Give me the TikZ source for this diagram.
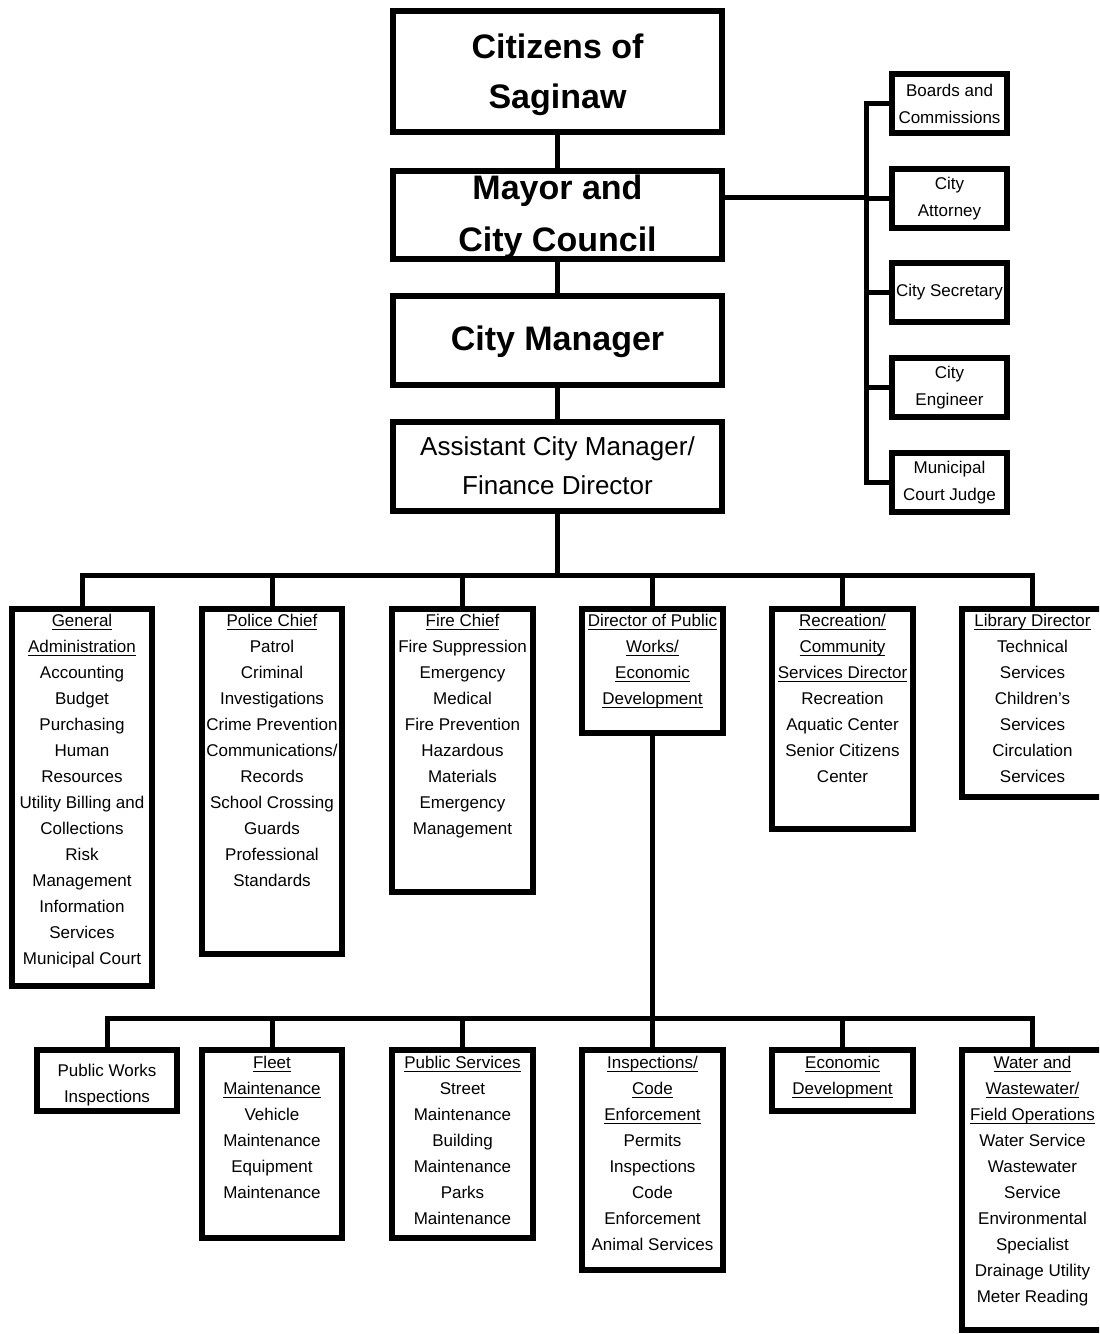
\documentclass[tikz,border=0pt]{standalone}
\usepackage{fontspec}
\setmainfont{Liberation Sans}
\usetikzlibrary{fit}
\newcommand\myul[1]{\setbox0\hbox{#1}\rlap{\rule[-1.6pt]{\wd0}{0.55pt}}\box0}
\begin{document}
\begin{tikzpicture}[x=0.5pt,y=-0.5pt,
  box/.style={draw=black, line width=3pt, inner sep=0pt, fill=white},
  conn/.style={draw=black, line width=2.5pt},
  txt/.style={inner sep=0pt, align=center, font=\fontsize{8.5}{13}\selectfont, anchor=north},
  rtxt/.style={inner sep=0pt, align=center, font=\fontsize{8.5}{13.5}\selectfont},
  big/.style={inner sep=0pt, align=center, font=\fontsize{17}{25}\selectfont\bfseries},
]
\useasboundingbox (0,0) rectangle (1099,1334);
\clip (0,0) rectangle (1099,1334);
\fill[white] (0,0) rectangle (1099,1334);

% ---------- top column ----------
\node[box, fit={(393,11) (722,132)}] (cit) {};
\node[box, fit={(393,171) (722,259)}] (mayor) {};
\node[box, fit={(393,296) (722,385)}] (cm) {};
\node[box, fit={(393,422) (722,511)}] (acm) {};

\node[big] (cit-t) at (557.5,75) {Citizens of\\Saginaw};
\node[big, font=\fontsize{17}{26}\selectfont\bfseries] (mayor-t) at (557.5,217) {Mayor and\\City Council};
\node[big] (cm-t) at (557.5,342) {City Manager};
\node[inner sep=0pt, align=center, font=\fontsize{13}{19.5}\selectfont] (acm-t) at (557.5,466) {Assistant City Manager/\\Finance Director};

% ---------- right column ----------
\node[box, fit={(892,74) (1007,133)}] (boards) {};
\node[box, fit={(892,169) (1007,228)}] (atty) {};
\node[box, fit={(892,263) (1007,322)}] (sec) {};
\node[box, fit={(892,358) (1007,417)}] (eng) {};
\node[box, fit={(892,453) (1007,512)}] (judge) {};

\node[rtxt] (boards-t) at (boards.center) {Boards and\\Commissions};
\node[rtxt] (atty-t) at (atty.center) {City\\Attorney};
\node[rtxt] (sec-t) at (sec.center) {City Secretary};
\node[rtxt] (eng-t) at (eng.center) {City\\Engineer};
\node[rtxt] (judge-t) at (judge.center) {Municipal\\Court Judge};

% ---------- level 2 ----------
\node[box, fit={(12,609) (152,986)}] (ga) {};
\node[box, fit={(202,609) (342,954)}] (police) {};
\node[box, fit={(392,609) (533,892)}] (fire) {};
\node[box, fit={(582,609) (723,733)}] (dpw) {};
\node[box, fit={(772,609) (913,829)}] (rec) {};
\node[box, fit={(962,609) (1103,797)}] (lib) {};

\node[txt] (ga-t) at (82,614) {\myul{General}\\\myul{Administration}\\Accounting\\Budget\\Purchasing\\Human\\Resources\\Utility Billing and\\Collections\\Risk\\Management\\Information\\Services\\Municipal Court};
\node[txt] (police-t) at (272,614) {\myul{Police Chief}\\Patrol\\Criminal\\Investigations\\Crime Prevention\\Communications/\\Records\\School Crossing\\Guards\\Professional\\Standards};
\node[txt] (fire-t) at (462.5,614) {\myul{Fire Chief}\\Fire Suppression\\Emergency\\Medical\\Fire Prevention\\Hazardous\\Materials\\Emergency\\Management};
\node[txt] (dpw-t) at (652.5,614) {\myul{Director of Public}\\\myul{Works/}\\\myul{Economic}\\\myul{Development}};
\node[txt] (rec-t) at (842.5,614) {\myul{Recreation/}\\\myul{Community}\\\myul{Services Director}\\Recreation\\Aquatic Center\\Senior Citizens\\Center};
\node[txt] (lib-t) at (1032.5,614) {\myul{Library Director}\\Technical\\Services\\Children's\\Services\\Circulation\\Services};

% ---------- level 3 ----------
\node[box, fit={(37,1050) (177,1111)}] (pwi) {};
\node[box, fit={(202,1050) (342,1238)}] (fleet) {};
\node[box, fit={(392,1050) (533,1238)}] (ps) {};
\node[box, fit={(582,1050) (723,1270)}] (insp) {};
\node[box, fit={(772,1050) (913,1111)}] (econ) {};
\node[box, fit={(962,1050) (1103,1330)}] (water) {};

\node[rtxt, font=\fontsize{8.5}{13}\selectfont] (pwi-t) at (107,1085) {Public Works\\Inspections};
\node[txt] (fleet-t) at (272,1056) {\myul{Fleet}\\\myul{Maintenance}\\Vehicle\\Maintenance\\Equipment\\Maintenance};
\node[txt] (ps-t) at (462.5,1056) {\myul{Public Services}\\Street\\Maintenance\\Building\\Maintenance\\Parks\\Maintenance};
\node[txt] (insp-t) at (652.5,1056) {\myul{Inspections/}\\\myul{Code}\\\myul{Enforcement}\\Permits\\Inspections\\Code\\Enforcement\\Animal Services};
\node[txt] (econ-t) at (842.5,1056) {\myul{Economic}\\\myul{Development}};
\node[txt] (water-t) at (1032.5,1056) {\myul{Water and}\\\myul{Wastewater/}\\\myul{Field Operations}\\Water Service\\Wastewater\\Service\\Environmental\\Specialist\\Drainage Utility\\Meter Reading};

% ---------- connectors ----------
\draw[conn] (cit.south) -- (mayor.north);
\draw[conn] (mayor.south) -- (cm.north);
\draw[conn] (cm.south) -- (acm.north);

\coordinate (rv) at (866,197);
\draw[conn] (mayor.east |- rv) -- (rv);
\foreach \n in {boards,atty,sec,eng,judge}
  \draw[conn] (\n.west) -| (rv);

\coordinate (bus1) at (557.5,575);
\draw[conn] (acm.south) -- (bus1);
\foreach \n in {ga,police,fire,dpw,rec,lib}
  \draw[conn] (\n.north) |- (bus1);

\coordinate (bus2) at (652.5,1018);
\draw[conn] (dpw.south) -- (bus2);
\foreach \n in {pwi,fleet,ps,insp,econ,water}
  \draw[conn] (\n.north) |- (bus2);
\end{tikzpicture}
\end{document}
